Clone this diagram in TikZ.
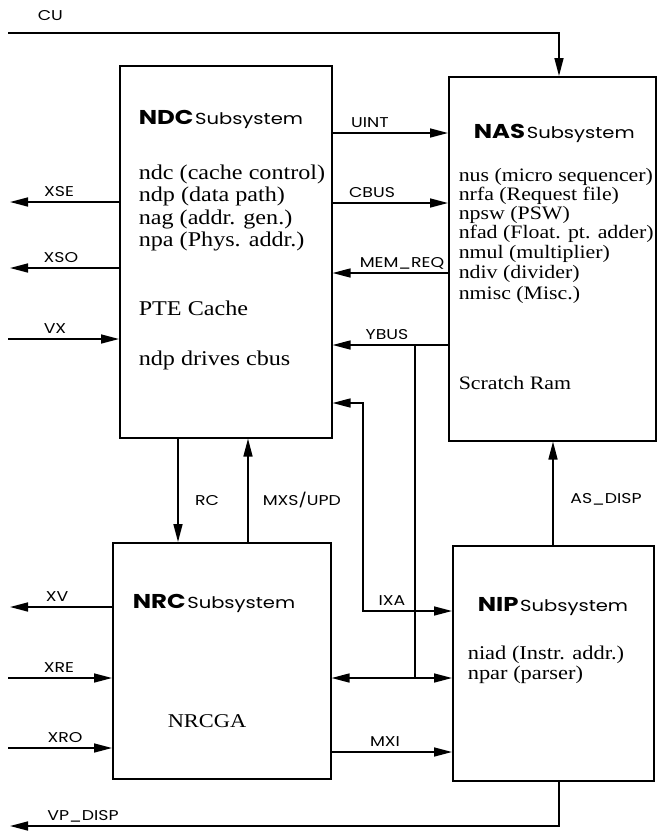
\documentclass[tikz,border=0pt]{standalone}
\usepackage{fontspec}
\setmainfont{Liberation Serif}[FakeStretch=1.15]
\newfontfamily\gothic{Poppins}[FakeStretch=1.22]
\usetikzlibrary{arrows.meta}
\begin{document}
\begin{tikzpicture}[x=1pt,y=-1pt, line width=1.6pt,
  box/.style={draw, line width=1.6pt, anchor=north west, inner sep=0pt},
  arr/.style={-{Triangle[length=18pt,width=9pt]}},
  biarr/.style={{Triangle[length=18pt,width=9pt]}-{Triangle[length=18pt,width=9pt]}},
  lab/.style={font=\gothic\fontsize{14.2}{14.2}\selectfont, inner sep=0pt, anchor=base},
  labw/.style={font=\gothic\fontsize{14.2}{14.2}\selectfont, inner sep=0pt, anchor=base west},
  body/.style={inner sep=0pt, anchor=mid west},
  ndcf/.style={font=\fontsize{21}{22}\selectfont},
  nasf/.style={font=\fontsize{19}{19}\selectfont},
  nipf/.style={font=\fontsize{19.5}{20}\selectfont},
  head/.style={inner sep=0pt, anchor=base west}]
\newcommand{\hd}[1]{{\gothic\bfseries\fontsize{20}{20}\selectfont #1}\,{\gothic\fontsize{16}{16}\selectfont Subsystem}}
\useasboundingbox (0,0) rectangle (660,831);

% boxes
\node[box, minimum width=212pt, minimum height=372pt] (ndc) at (119,65) {};
\node[box, minimum width=207pt, minimum height=364pt] (nas) at (448,76) {};
\node[box, minimum width=218pt, minimum height=236pt] (nrc) at (112,542) {};
\node[box, minimum width=201pt, minimum height=235pt] (nip) at (452,545) {};

% NDC text
\node[head] (ndch) at (138,124) {\hd{NDC}};
\node[body, ndcf] (ndc1) at (138,177) {ndc (cache control)};
\node[body, ndcf] (ndc2) at (138,199) {ndp (data path)};
\node[body, ndcf] (ndc3) at (138,222) {nag (addr. gen.)};
\node[body, ndcf] (ndc4) at (138,244) {npa (Phys. addr.)};
\node[body, ndcf] (ndc5) at (138,313) {PTE Cache};
\node[body, ndcf] (ndc6) at (138,363) {ndp drives cbus};

% NAS text
\node[head] (nash) at (473,138) {\hd{NAS}};
\node[body, nasf] (nas1) at (458,179) {nus (micro sequencer)};
\node[body, nasf] (nas2) at (458,198) {nrfa (Request file)};
\node[body, nasf] (nas3) at (458,217) {npsw (PSW)};
\node[body, nasf] (nas4) at (458,236) {nfad (Float. pt. adder)};
\node[body, nasf] (nas5) at (458,256) {nmul (multiplier)};
\node[body, nasf] (nas6) at (458,276) {ndiv (divider)};
\node[body, nasf] (nas7) at (458,297) {nmisc (Misc.)};
\node[body, nasf] (nas8) at (458,387) {Scratch Ram};

% NRC text
\node[head] (nrch) at (132,608) {\hd{NRC}};
\node[body, nipf, anchor=mid] (nrc1) at (207,725) {NRCGA};

% NIP text
\node[head] (niph) at (477,611) {\hd{NIP}};
\node[body, nipf] (nip1) at (467,657) {niad (Instr. addr.)};
\node[body, nipf] (nip2) at (467,677) {npar (parser)};

% CU
\coordinate (cus) at (8,33);
\coordinate (cuc) at (559,33);
\draw[arr] (cus) -- (cuc) -- (nas.north -| cuc);
\node[labw] (cul) at (37,20) {CU};

% left side of NDC
\coordinate (xse) at (10,202);
\coordinate (xso) at (10,268);
\coordinate (vx) at (8,339);
\draw[arr] (ndc.west |- xse) -- (xse);
\draw[arr] (ndc.west |- xso) -- (xso);
\draw[arr] (vx) -- (ndc.west |- vx);
\node[lab] (xsel) at (59,196) {XSE};
\node[lab] (xsol) at (61,262) {XSO};
\node[lab] (vxl) at (55,333) {VX};

% NDC <-> NAS
\draw[arr] (ndc.east |- 0,133) -- (nas.west |- 0,133);
\draw[arr] (ndc.east |- 0,203) -- (nas.west |- 0,203);
\draw[arr] (nas.west |- 0,273) -- (ndc.east |- 0,273);
\draw[arr] (nas.west |- 0,345) -- (ndc.east |- 0,345);
\node[lab] (uintl) at (370,127) {UINT};
\node[lab] (cbusl) at (372,197) {CBUS};
\node[lab] (meml) at (402,267) {MEM\_REQ};
\node[lab] (ybusl) at (387,339) {YBUS};

% YBUS branch and bidirectional bus
\coordinate (yb) at (415,345);
\draw (yb) -- (415,678);
\draw[biarr] (nrc.east |- 0,678) -- (nip.west |- 0,678);

% IXA
\draw[biarr] (ndc.east |- 0,403) -- (363,403) -- (363,611) -- (nip.west |- 0,611);
\node[lab] (ixal) at (392,605) {IXA};

% RC and MXS/UPD
\draw[arr] (ndc.south -| 178,0) -- (nrc.north -| 178,0);
\draw[arr] (nrc.north -| 248,0) -- (ndc.south -| 248,0);
\node[lab] (rcl) at (207,505) {RC};
\node[labw] (mxsl) at (262,505) {MXS/UPD};

% AS_DISP
\draw[arr] (nip.north -| 553,0) -- (nas.south -| 553,0);
\node[lab] (asl) at (606,503) {AS\_DISP};

% left side of NRC
\coordinate (xv) at (10,607);
\coordinate (xre) at (8,678);
\coordinate (xro) at (8,748);
\draw[arr] (nrc.west |- xv) -- (xv);
\draw[arr] (xre) -- (nrc.west |- xre);
\draw[arr] (xro) -- (nrc.west |- xro);
\node[lab] (xvl) at (57,601) {XV};
\node[lab] (xrel) at (59,672) {XRE};
\node[lab] (xrol) at (65,742) {XRO};

% MXI
\draw[arr] (nrc.east |- 0,752) -- (nip.west |- 0,752);
\node[lab] (mxil) at (385,746) {MXI};

% VP_DISP
\coordinate (vpc) at (559,826);
\coordinate (vpe) at (10,826);
\draw[arr] (nip.south -| vpc) -- (vpc) -- (vpe);
\node[lab] (vpl) at (83,820) {VP\_DISP};
\end{tikzpicture}
\end{document}
